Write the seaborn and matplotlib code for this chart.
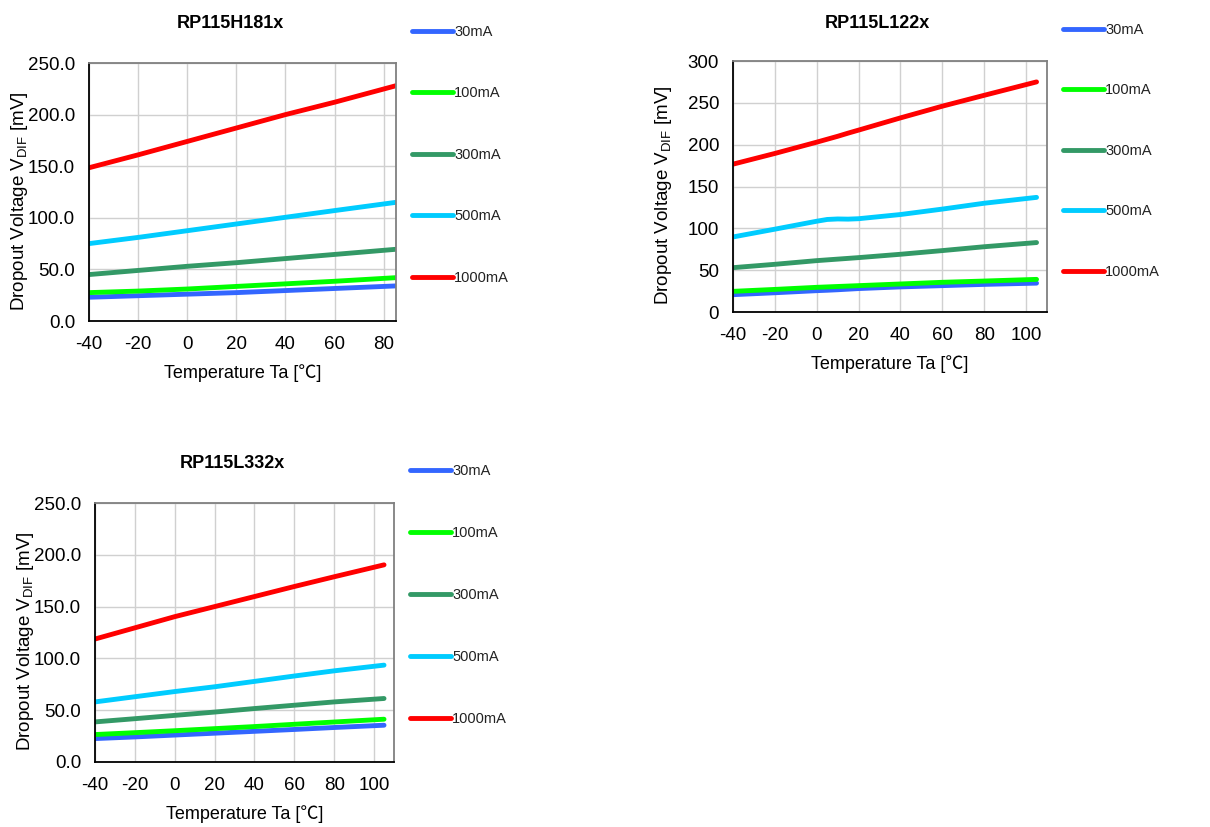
import numpy as np
import pandas as pd
import seaborn as sns
import matplotlib
matplotlib.use("Agg")
import matplotlib.pyplot as plt
from matplotlib.ticker import FormatStrFormatter, MultipleLocator

sns.set_theme(style="white")
plt.rcParams['font.family'] = ['Liberation Sans', 'Noto Sans CJK JP', 'DejaVu Sans']
plt.rcParams['mathtext.fontset'] = 'custom'
plt.rcParams['mathtext.rm'] = 'Liberation Sans'
plt.rcParams['axes.unicode_minus'] = False
plt.rcParams['text.color'] = 'black'
plt.rcParams['axes.labelcolor'] = 'black'

currents = ["30mA", "100mA", "300mA", "500mA", "1000mA"]
colors = ["#3366FF", "#00FF00", "#339966", "#00CCFF", "#FF0000"]

# Chart 1: RP115H181x
t1 = [-40, -20, 0, 20, 40, 60, 85]
h181_30 = [23, 24.5, 26, 27.5, 29.5, 31.5, 34]
h181_100 = [27.5, 29, 31, 33.5, 36, 38.5, 42]
h181_300 = [45, 49, 53, 56.5, 60.5, 64.5, 69.5]
h181_500 = [75, 81, 87.5, 94, 100.5, 107, 115]
h181_1000 = [148.5, 161, 174, 187, 200, 212, 228]

# Chart 2: RP115L122x
t2 = [-40, -20, 0, 5, 10, 15, 20, 40, 60, 80, 105]
l122_30 = [20.7, 23, 25.5, 26, 26.6, 27.3, 28, 30, 31.5, 33, 34.5]
l122_100 = [24.7, 27, 29.5, 30, 30.5, 31, 31.5, 33.5, 35.5, 37, 39]
l122_300 = [53, 57, 61.4, 62.3, 63.2, 64.1, 65, 69, 73.4, 78, 83]
l122_500 = [89.7, 99, 108.5, 110.6, 111.2, 111, 111.5, 116.5, 123, 130, 137]
l122_1000 = [176.7, 189.5, 203, 206.5, 210, 213.8, 217.4, 232, 246, 259, 275]

# Chart 3: RP115L332x
t3 = [-40, -20, 0, 20, 40, 60, 80, 105]
l332_30 = [22.6, 24.2, 26, 27.8, 29.6, 31.4, 33.3, 35.5]
l332_100 = [26.5, 28.3, 30.2, 32.2, 34.2, 36.4, 38.6, 41.3]
l332_300 = [38.7, 41.8, 45, 48.2, 51.6, 54.8, 58, 61.3]
l332_500 = [58, 63, 68, 72.6, 77.8, 83, 88, 93.5]
l332_1000 = [118.7, 129.5, 140.3, 150, 159.7, 169.4, 178.8, 190.3]

charts = [
    dict(title="RP115H181x", t=t1, series=[h181_30, h181_100, h181_300, h181_500, h181_1000],
         box=(89, 396, 63, 321), xlim=(-40, 85), ylim=(0, 250), fmt="%.1f",
         title_xy=(230, 24), leg_xy=(412, 25), leg_dy=62),
    dict(title="RP115L122x", t=t2, series=[l122_30, l122_100, l122_300, l122_500, l122_1000],
         box=(733, 1047, 61, 312), xlim=(-40, 110), ylim=(0, 300), fmt="%d",
         title_xy=(877, 24), leg_xy=(1063, 23), leg_dy=61),
    dict(title="RP115L332x", t=t3, series=[l332_30, l332_100, l332_300, l332_500, l332_1000],
         box=(95, 394, 503, 762), xlim=(-40, 110), ylim=(0, 250), fmt="%.1f",
         title_xy=(232, 464), leg_xy=(410, 464), leg_dy=62.5),
]

W, H = 1210, 827
fig = plt.figure(figsize=(W / 100, H / 100), dpi=100)

for c in charts:
    l, r, t, b = c["box"]
    ax = fig.add_axes([l / W, 1 - b / H, (r - l) / W, (b - t) / H])
    rows = []
    for name, vals in zip(currents, c["series"]):
        for x, y in zip(c["t"], vals):
            rows.append({"Ta": x, "V": y, "I": name})
    df = pd.DataFrame(rows)
    sns.lineplot(data=df, x="Ta", y="V", hue="I", hue_order=currents,
                 palette=colors, linewidth=3.5, ax=ax, legend=True)
    ax.set_xlim(*c["xlim"])
    ax.set_ylim(*c["ylim"])
    ax.xaxis.set_major_locator(MultipleLocator(20))
    ax.yaxis.set_major_locator(MultipleLocator(50))
    ax.yaxis.set_major_formatter(FormatStrFormatter(c["fmt"]))
    ax.grid(True, color="#D0D0D0", linewidth=1.0)
    ax.set_axisbelow(True)
    for s in ["left", "bottom"]:
        ax.spines[s].set_color("black")
        ax.spines[s].set_linewidth(1.3)
    for s in ["top", "right"]:
        ax.spines[s].set_color("#808080")
        ax.spines[s].set_linewidth(1.3)
    ax.tick_params(axis="both", direction="in", length=4, width=1, color="black",
                   labelsize=13.5, colors="black")
    ax.tick_params(axis="x", pad=11)
    ax.tick_params(axis="y", pad=10)
    ax.set_xlabel("Temperature Ta [℃]", fontsize=13, color="black", labelpad=8)
    ax.set_ylabel(r"Dropout Voltage V$_{\mathrm{DIF}}$ [mV]", fontsize=13.5, color="black")
    ax.yaxis.set_label_coords(-59 / (r - l), 0.465)
    fig.text(c["title_xy"][0] / W, 1 - c["title_xy"][1] / H, c["title"],
             fontsize=13, fontweight="bold", ha="center", va="center", color="black")
    lx, ly = c["leg_xy"]
    fs = 10.5
    spacing = (c["leg_dy"] - fs * 100 / 72) / (fs * 100 / 72)
    handles, labels = ax.get_legend_handles_labels()
    leg = ax.legend(handles, labels, loc="upper left",
                    bbox_to_anchor=(lx / W, 1 - ly / H), bbox_transform=fig.transFigure,
                    frameon=False, fontsize=fs, labelspacing=spacing, handlelength=2.8,
                    handletextpad=0.1, borderpad=0, borderaxespad=0, title=None)
    for txt in leg.get_texts():
        txt.set_color("#222222")

fig.savefig("out.png", dpi=100)
